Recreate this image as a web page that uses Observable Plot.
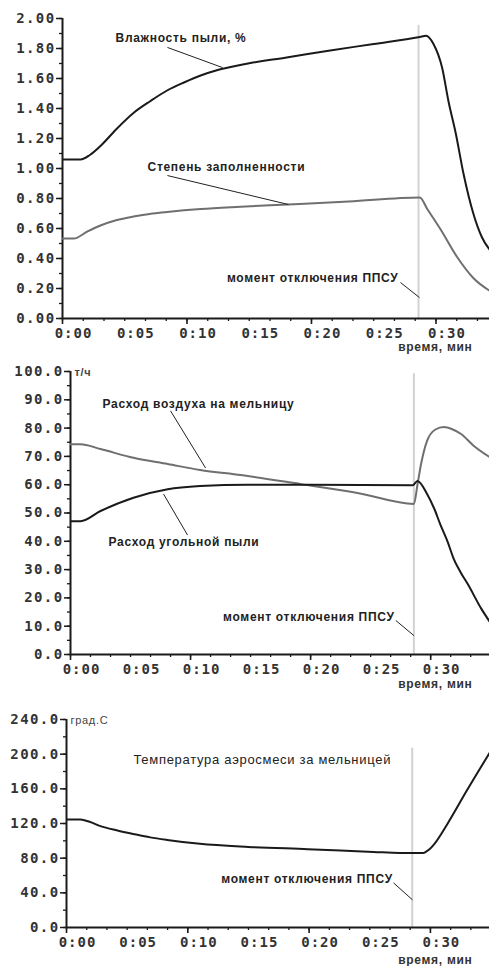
<!DOCTYPE html>
<html><head><meta charset="utf-8">
<script src="https://cdn.jsdelivr.net/npm/d3@7"></script>
<script src="https://cdn.jsdelivr.net/npm/@observablehq/plot@0.6"></script>
<style>
body{margin:0;background:#fff;}
#chart svg{display:block;}
g[aria-label="y-axis tick label"] text{letter-spacing:1.4px;}
g[aria-label="x-axis tick label"] text{letter-spacing:1px;}
g[aria-label="text"] text{letter-spacing:0.7px;}
</style></head><body><div id="chart"></div>
<script>
// ---------- Panel 1: влажность пыли / степень заполненности ----------
const tMoist = [0,1.45,2.2,3.05,4.3,5.7,7.07,8.4,9.8,11.1,12.4,13.7,14.9,18,21.5,25,28.7,29.2,29.8,30.5,31.0,31.6,32.2,33.0,33.7,34.4];
const vMoist = [1.06,1.06,1.09,1.15,1.26,1.37,1.45,1.52,1.575,1.62,1.655,1.68,1.70,1.74,1.787,1.83,1.877,1.885,1.83,1.67,1.45,1.23,0.97,0.70,0.54,0.45];
const tFill = [0,0.9,2.0,3.05,4.3,5.7,7.0,8.4,11.1,14.3,18.1,23,28.7,29.3,30.4,31.7,33.0,34.4];
const vFill = [0.533,0.533,0.58,0.62,0.655,0.68,0.697,0.71,0.73,0.745,0.76,0.78,0.807,0.73,0.59,0.41,0.27,0.18];
// ---------- Panel 2: расход воздуха / расход угольной пыли ----------
const tAir = [0,0.83,2.5,5.25,8.1,10.8,14.2,19.2,24,28.6,28.9,29.2,29.7,30.4,31.1,31.8,32.5,33.6,34.9];
const vAir = [74.3,74.3,72.6,69.5,67.3,65.2,63.4,60.2,57,53.2,60,67.3,75.5,79.5,80.4,79.6,78,73.7,69.8];
const tCoal = [0,0.83,2.5,5.25,8.1,10.8,14.8,20,28.5,28.9,29.7,30.3,30.8,31.4,31.9,32.5,33.1,34.2,34.9];
const vCoal = [47.1,47.1,50.7,55.4,58.4,59.5,60.0,60.0,59.8,61.3,56.7,51.5,46,40,34,29,24.8,16.3,11.7];
// ---------- Panel 3: температура аэросмеси ----------
const tTemp = [0,1.15,1.9,2.8,4.2,5.5,6.9,8.3,11,15,19.9,25.3,27.5,29.4,29.9,30.3,31.4,33.0,34.9];
const vTemp = [124.5,124.5,122,117,112,108,104,101,96.5,93,90.4,87.2,86,86,90,96,119.5,158,202];

// moment of switching off (minutes)
const cutoff = [28.6, 28.6, 28.5];
const xLabelTicks = [0,5,10,15,20,25,30];
const xMajorTicks = [0,10,20,30];

// annotations: [label, t, value, anchor]
const notes1 = [["Влажность пыли, %",4.26,1.867,"start"],["Степень заполненности",6.83,1.007,"start"],["момент отключения ППСУ",26.99,0.267,"end"]];
const leaders1 = [[8.43,1.807,12.85,1.673],[8.43,0.953,18.15,0.76],[27.15,0.24,28.67,0.14]];
const notes2 = [["Расход воздуха на мельницу",2.67,88.6,"start"],["Расход угольной пыли",3.17,39.7,"start"],["момент отключения ППСУ",27.0,13.1,"end"]];
const leaders2 = [[8.33,86.1,11.25,65.9],[9.75,42.2,7.75,56.7],[27.1,12.0,28.6,6.7]];
const notes3 = [["Температура аэросмеси за мельницей",5.52,194,"start"],["момент отключения ППСУ",26.9,56,"end"]];
const leaders3 = [[26.96,51.5,28.52,31.9]];

const zip = (t, v) => t.map((d, i) => ({t: d, v: v[i]}));
const range = (a, b, s) => d3.range(Math.round(a / s), Math.round(b / s) + 1).map(k => +(k * s).toFixed(6));
const fmtT = d => `0:${String(d).padStart(2, "0")}`;
const INK = "#1a1a1a", GREY = "#6f6f6f";

function panel(o) {
  const noteMarks = [];
  for (const [label, t, v, anchor] of o.notes) {
    const bold = !label.startsWith("Температура");
    noteMarks.push(Plot.text([{label, t, v}], {x: "t", y: "v", text: "label", textAnchor: anchor, lineAnchor: "middle",
      fontFamily: "Liberation Sans", fontSize: bold ? 12 : 13, fontWeight: bold ? "bold" : "normal", fill: "#222"}));
  }
  return Plot.plot({
    width: 489, height: o.height,
    marginTop: o.mt, marginBottom: o.mb, marginLeft: o.ml, marginRight: 0,
    style: {background: "white", color: "#333", overflow: "visible"},
    x: {domain: [0, o.xMax], axis: null, label: null},
    y: {domain: o.yDomain, axis: null, label: null},
    marks: [
      Plot.ruleX([o.cut], {y1: 0, y2: o.cutTop, stroke: "#d2d2d2", strokeWidth: 2}),
      Plot.axisY(range(o.yDomain[0], o.yDomain[1], o.yMinor), {tickSize: 3, tickFormat: () => "", stroke: INK, strokeWidth: 1.3, label: null}),
      Plot.axisY(range(o.yDomain[0], o.yDomain[1], o.yMajor), {tickSize: 6, tickPadding: 1, tickFormat: d3.format(o.yFmt), stroke: INK, strokeWidth: 1.5,
        fontFamily: "DejaVu Sans Mono", fontSize: 14, fontWeight: "bold", fill: "#333", label: null}),
      Plot.axisX(range(0, o.xMax, 5 / 3).filter(d => d <= o.xMax), {tickSize: 3, tickFormat: () => "", stroke: INK, strokeWidth: 1.3, label: null}),
      Plot.axisX(xMajorTicks, {tickSize: 6, tickFormat: () => "", stroke: INK, strokeWidth: 1.6, label: null}),
      Plot.axisX(xLabelTicks, {tickSize: 0, tickPadding: 10, dx: 11, tickFormat: fmtT,
        fontFamily: "DejaVu Sans Mono", fontSize: 14, fontWeight: "bold", fill: "#333", label: null}),
      Plot.ruleX([0], {stroke: INK, strokeWidth: 2}),
      Plot.ruleY([o.yDomain[0]], {stroke: INK, strokeWidth: 2}),
      ...o.series.map(s => Plot.line(s.data, {x: "t", y: "v", stroke: s.color, strokeWidth: 2, curve: "monotone-x", clip: true})),
      Plot.link(o.leaders, {x1: d => d[0], y1: d => d[1], x2: d => d[2], y2: d => d[3], stroke: "#222", strokeWidth: 1}),
      ...noteMarks,
      Plot.text(["время, мин"], {frameAnchor: "bottom-right", dx: -17, dy: o.timeDy, textAnchor: "end", lineAnchor: "middle",
        fontFamily: "Liberation Sans", fontSize: 12, fontWeight: "bold", fill: "#333"}),
      Plot.text([o.unit], {frameAnchor: "top-left", dx: o.unitDx, dy: 1, textAnchor: "start", lineAnchor: "middle",
        fontFamily: "Liberation Sans", fontSize: 11, fontWeight: o.unitBold ? "bold" : "normal", fill: "#444"})
    ]
  });
}

const root = document.getElementById("chart");
root.append(panel({height: 352, mt: 18, mb: 34, ml: 62, xMax: 34.3, yDomain: [0, 2], yMajor: 0.2, yMinor: 0.1, yFmt: ".2f",
  cut: cutoff[0], cutTop: 1.953, series: [{data: zip(tMoist, vMoist), color: INK}, {data: zip(tFill, vFill), color: GREY}],
  notes: notes1, leaders: leaders1, timeDy: 29, unit: "", unitDx: 4}));
root.append(panel({height: 338, mt: 19, mb: 36, ml: 70, xMax: 34.9, yDomain: [0, 100], yMajor: 10, yMinor: 5, yFmt: ".1f",
  cut: cutoff[1], cutTop: 99.2, series: [{data: zip(tAir, vAir), color: GREY}, {data: zip(tCoal, vCoal), color: INK}],
  notes: notes2, leaders: leaders2, timeDy: 30, unit: "т/ч", unitDx: 4, unitBold: true}));
root.append(panel({height: 276, mt: 29, mb: 39, ml: 66, xMax: 34.87, yDomain: [0, 240], yMajor: 40, yMinor: 20, yFmt: ".1f",
  cut: cutoff[2], cutTop: 206.8, series: [{data: zip(tTemp, vTemp), color: INK}],
  notes: notes3, leaders: leaders3, timeDy: 33, unit: "град.С", unitDx: 4}));
</script></body></html>
